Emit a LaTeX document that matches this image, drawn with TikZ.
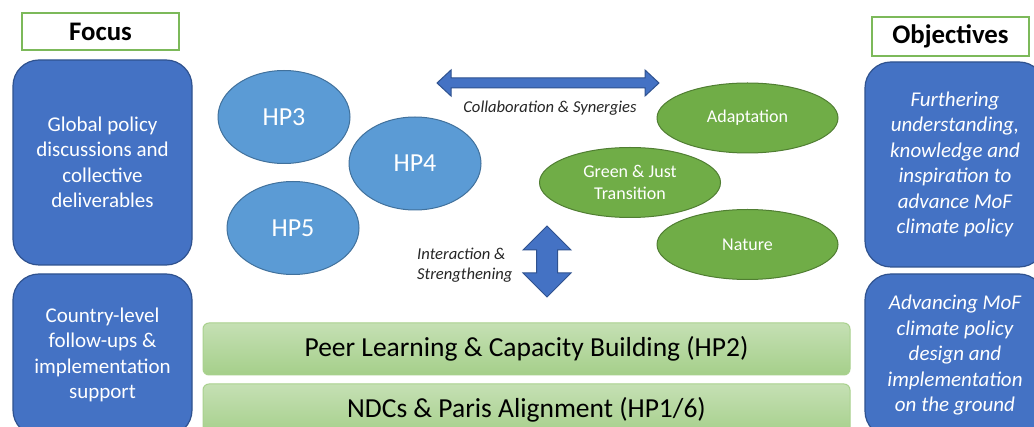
\documentclass[tikz,border=0pt]{standalone}
\usepackage{fontspec}
\setmainfont{Carlito}
\usetikzlibrary{shapes.geometric}
\definecolor{boxblue}{HTML}{4472C4}
\definecolor{boxblueline}{HTML}{2F528F}
\definecolor{ellblue}{HTML}{5B9BD5}
\definecolor{ellblueline}{HTML}{41719C}
\definecolor{ellgreen}{HTML}{70AD47}
\definecolor{ellgreenline}{HTML}{507E32}
\definecolor{bartop}{HTML}{C5E0B4}
\definecolor{barbot}{HTML}{A5CF8A}
\definecolor{barline}{HTML}{A9D18E}
\definecolor{hdrline}{HTML}{7CB95A}
\definecolor{labeltext}{HTML}{262626}
\begin{document}
\begin{tikzpicture}[x=1pt,y=-1pt,
  bluebox/.style={draw=boxblueline, line width=1.2pt, fill=boxblue, rounded corners=26pt,
    text=white, align=center, inner sep=0pt, font=\fontsize{21}{25.5}\selectfont},
  objbox/.style={bluebox, font=\fontsize{21}{25.5}\selectfont\itshape},
  hdrbox/.style={draw=hdrline, line width=1.2pt, fill=white, inner sep=0pt,
    font=\fontsize{26.8}{30}\selectfont\bfseries},
  hpell/.style={ellipse, draw=ellblueline, line width=1pt, fill=ellblue, text=white,
    inner sep=0pt, minimum width=132pt, minimum height=93pt, font=\fontsize{26}{30}\selectfont},
  grell/.style={ellipse, draw=ellgreenline, line width=1pt, fill=ellgreen, text=white,
    inner sep=0pt, align=center, minimum width=181pt, minimum height=70pt,
    font=\fontsize{18}{22}\selectfont},
  barbox/.style={draw=barline, line width=1pt, top color=bartop, bottom color=barbot,
    rounded corners=6pt, inner sep=0pt, minimum width=647pt, minimum height=52pt,
    font=\fontsize{27.5}{30}\selectfont},
  bigarrow/.style={draw=boxblueline, line width=1pt, fill=boxblue},
  lbl/.style={text=labeltext, inner sep=0pt, font=\fontsize{16.6}{20}\selectfont\itshape}
]
\useasboundingbox (0,0) rectangle (1034,427);
\clip (0,0) rectangle (1034,427);
\fill[white] (0,0) rectangle (1034,427);

% headers
\node[hdrbox, minimum width=157pt, minimum height=37pt] (focus) at (100.5,31.5) {Focus};
\node[hdrbox, minimum width=157pt, minimum height=39pt] (objectives) at (950.5,36.5) {Objectives};

% left focus boxes
\node[bluebox, minimum width=179pt, minimum height=205pt] (global) at (102.5,162.5)
  {Global policy\\discussions and\\collective\\deliverables};
\node[bluebox, minimum width=179pt, minimum height=162pt] (country) at (102.5,355)
  {Country-level\\follow-ups \&\\implementation\\support};

% right objective boxes
\node[objbox, minimum width=180pt, minimum height=205pt] (further) at (955,164.5)
  {Furthering\\understanding,\\knowledge and\\inspiration to\\advance MoF\\climate policy};
\node[objbox, minimum width=180pt, minimum height=163pt] (advancing) at (955,355.5)
  {Advancing MoF\\climate policy\\design and\\implementation\\on the ground};

% HP ellipses
\node[hpell] (hp3) at (284,117) {HP3};
\node[hpell] (hp5) at (293,228) {HP5};
\node[hpell] (hp4) at (415,163.5) {HP4};

% green ellipses
\node[grell] (adapt) at (747.5,118) {Adaptation};
\node[grell] (green) at (630,182.5) {Green \& Just\\Transition};
\node[grell] (nature) at (747.5,244.5) {Nature};

% arrows
\draw[bigarrow] (437,83) -- (451,70) -- (451,78) -- (645,78) -- (645,70) -- (659,83)
  -- (645,96) -- (645,88) -- (451,88) -- (451,96) -- cycle;
\draw[bigarrow] (547,226) -- (571,250) -- (557.5,250) -- (557.5,273) -- (571,273)
  -- (547,297) -- (523,273) -- (536.5,273) -- (536.5,250) -- (523,250) -- cycle;

\node[lbl] (collab) at (550,108) {Collaboration \& Synergies};
\node[lbl, anchor=west, align=left] (interact) at (417,265) {Interaction \&\\Strengthening};

% bars
\node[barbox] (peer) at (526.5,349) {Peer Learning \& Capacity Building (HP2)};
\node[barbox] (ndc) at (526.5,410) {NDCs \& Paris Alignment (HP1/6)};
\end{tikzpicture}
\end{document}
